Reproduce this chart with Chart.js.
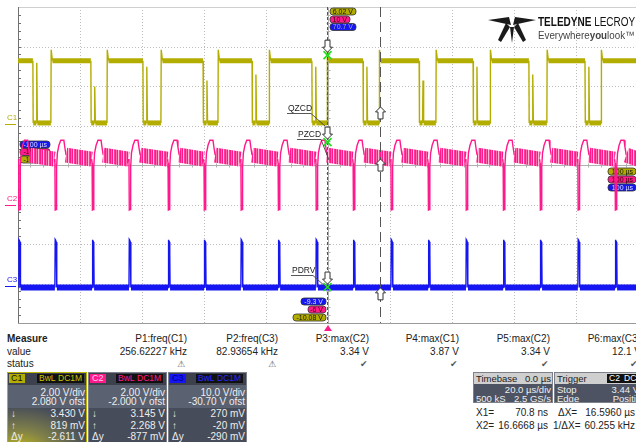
<!DOCTYPE html>
<html>
<head>
<meta charset="utf-8">
<script src="https://cdn.jsdelivr.net/npm/chart.js@4.4.1/dist/chart.umd.min.js"></script>
<style>
  html, body { margin: 0; padding: 0; background: #fff; }
  body { width: 636px; height: 442px; overflow: hidden; position: relative;
         font-family: "Liberation Sans", Arial, sans-serif; font-size: 10px; color: #222; }
  #scope { position: absolute; left: 0; top: 0; }
  .t { position: absolute; white-space: nowrap; line-height: 12px; }
  .b { font-weight: bold; }
  .ico { position: absolute; font-family: "DejaVu Sans"; font-size: 9px; color: #555; line-height: 10px; }
  .box { position: absolute; top: 372px; height: 72px; background: #5a6170; border: 1px solid #7c818c;
         box-sizing: border-box; overflow: hidden; color: #eee; }
  .hd { position: absolute; left: 0; top: 0; width: 100%; height: 12px; background: #3c414d; }
  .lo { position: absolute; left: 0; top: 35px; width: 100%; height: 40px; background: #464c59; }
  .lab { position: absolute; top: 1px; height: 9px; font-size: 9px; line-height: 9px; padding: 0 2px; }
  .bw { position: absolute; top: 1px; height: 9px; background: #111; font-size: 8.5px; line-height: 9px; padding: 0 2px; }
  .rw { position: absolute; right: 1px; line-height: 10px; font-size: 10px; white-space: nowrap; }
  .lf { position: absolute; left: 3px; line-height: 10px; font-size: 10px; white-space: nowrap; }
  .tb .rw, .tb .lf { font-size: 9.5px; line-height: 9px; }
  .logo1 { position: absolute; left: 538px; top: 16px; font-size: 12.5px; line-height: 12px; color: #111;
           transform: scaleX(0.8); transform-origin: left top; white-space: nowrap; }
  .logo2 { position: absolute; left: 538px; top: 29px; font-size: 11px; line-height: 12px; color: #444;
           transform: scaleX(0.89); transform-origin: left top; white-space: nowrap; }
</style>
</head>
<body>
<canvas id="scope" width="640" height="332"></canvas>

<!-- logo -->
<svg style="position:absolute;left:0;top:0" width="636" height="50">
  <g fill="#1a1a1a">
    <polygon points="488,20 509,17 511,25"/>
    <polygon points="536,20 515,17 513,25"/>
    <polygon points="506,23 510,27 501,42 498,40"/>
    <polygon points="510,27 514,27 512,43"/>
    <polygon points="518,23 514,27 523,42 526,40"/>
  </g>
</svg>
<div class="logo1"><b>TELEDYNE</b> LECROY</div>
<div class="logo2">Everywhere<b>you</b>look™</div>

<!-- measurement table -->
<div class="t b" style="left:7px;top:333px">Measure</div>
<div class="t" style="left:7px;top:346px">value</div>
<div class="t" style="left:7px;top:358px">status</div>

<div class="t" style="right:449px;top:333px">P1:freq(C1)</div>
<div class="t" style="right:358px;top:333px">P2:freq(C3)</div>
<div class="t" style="right:267px;top:333px">P3:max(C2)</div>
<div class="t" style="right:177px;top:333px">P4:max(C1)</div>
<div class="t" style="right:86px;top:333px">P5:max(C2)</div>
<div class="t" style="right:-5px;top:333px">P6:max(C3)</div>

<div class="t" style="right:449px;top:346px">256.62227 kHz</div>
<div class="t" style="right:358px;top:346px">82.93654 kHz</div>
<div class="t" style="right:267px;top:346px">3.34 V</div>
<div class="t" style="right:177px;top:346px">3.87 V</div>
<div class="t" style="right:86px;top:346px">3.34 V</div>
<div class="t" style="right:-5px;top:346px">12.1 V</div>

<div class="ico" style="left:177px;top:359px">⚠</div>
<div class="ico" style="left:268px;top:359px">⚠</div>
<div class="ico" style="left:360px;top:359px">✔</div>
<div class="ico" style="left:450px;top:359px">✔</div>
<div class="ico" style="left:541px;top:359px">✔</div>
<div class="ico" style="left:630px;top:359px">✔</div>

<!-- channel boxes -->
<div class="box" style="left:7px;width:80px;border-color:#b9b400">
  <div class="hd"></div>
  <div class="lab" style="left:1px;background:#b3ad00;color:#111">C1</div>
  <div class="bw" style="left:29px;color:#c9c400">BwL</div>
  <div class="bw" style="left:48px;color:#c9c400">DC1M</div>
  <div class="rw" style="top:15px">2.00 V/div</div>
  <div class="rw" style="top:24px">2.080 V ofst</div>
  <div class="lo" style="background:radial-gradient(ellipse at 15% 110%, rgba(205,196,20,0.95) 0%, rgba(160,155,40,0.55) 35%, #464c59 75%)"></div>
  <div class="lf" style="top:36px">↓</div><div class="rw" style="top:36px">3.430 V</div>
  <div class="lf" style="top:48px">↑</div><div class="rw" style="top:48px">819 mV</div>
  <div class="lf" style="top:59px">Δy</div><div class="rw" style="top:59px">-2.611 V</div>
</div>
<div class="box" style="left:88px;width:79px">
  <div class="hd"></div>
  <div class="lab" style="left:1px;background:#ff1a8c;color:#ffd0e8">C2</div>
  <div class="bw" style="left:27px;color:#ff1a8c">BwL</div>
  <div class="bw" style="left:46px;color:#ff1a8c">DC1M</div>
  <div class="rw" style="top:15px">2.00 V/div</div>
  <div class="rw" style="top:24px">-2.000 V ofst</div>
  <div class="lo"></div>
  <div class="lf" style="top:36px">↓</div><div class="rw" style="top:36px">3.145 V</div>
  <div class="lf" style="top:48px">↑</div><div class="rw" style="top:48px">2.268 V</div>
  <div class="lf" style="top:59px">Δy</div><div class="rw" style="top:59px">-877 mV</div>
</div>
<div class="box" style="left:168px;width:79px">
  <div class="hd"></div>
  <div class="lab" style="left:1px;background:#1414f5;color:#000080">C3</div>
  <div class="bw" style="left:27px;color:#2a2aff">BwL</div>
  <div class="bw" style="left:46px;color:#2a2aff">DC1M</div>
  <div class="rw" style="top:15px">10.0 V/div</div>
  <div class="rw" style="top:24px">-30.70 V ofst</div>
  <div class="lo"></div>
  <div class="lf" style="top:36px">↓</div><div class="rw" style="top:36px">270 mV</div>
  <div class="lf" style="top:48px">↑</div><div class="rw" style="top:48px">-20 mV</div>
  <div class="lf" style="top:59px">Δy</div><div class="rw" style="top:59px">-290 mV</div>
</div>

<!-- timebase / trigger -->
<div class="box tb" style="left:473px;width:80px;height:31px;background:#4d5362">
  <div class="hd" style="background:#cfcfcf;height:11px"></div>
  <div class="lf" style="top:1px;left:2px;color:#222">Timebase</div>
  <div class="rw" style="top:1px;color:#222">0.0 µs</div>
  <div class="rw" style="top:12px">20.0 µs/div</div>
  <div class="lf" style="top:21px;left:2px">500 kS</div>
  <div class="rw" style="top:21px">2.5 GS/s</div>
</div>
<div class="box tb" style="left:554px;width:90px;height:31px;background:#4d5362">
  <div class="hd" style="background:#cfcfcf;height:11px"></div>
  <div class="lf" style="top:1px;left:2px;color:#222">Trigger</div>
  <div class="bw" style="left:52px;top:1px;color:#fff">C2</div>
  <div class="bw" style="left:67px;top:1px;color:#fff">DC</div>
  <div class="lf" style="top:12px;left:2px">Stop</div>
  <div class="rw" style="top:12px;right:4px">3.44 V</div>
  <div class="lf" style="top:21px;left:2px">Edge</div>
  <div class="rw" style="top:21px;right:-3px">Positive</div>
</div>

<div class="t" style="left:476px;top:407px">X1=</div>
<div class="t" style="right:88px;top:407px">70.8 ns</div>
<div class="t" style="left:558px;top:407px">ΔX=</div>
<div class="t" style="right:1px;top:407px">16.5960 µs</div>
<div class="t" style="left:476px;top:420px">X2=</div>
<div class="t" style="right:88px;top:420px">16.6668 µs</div>
<div class="t" style="left:553px;top:420px">1/ΔX=</div>
<div class="t" style="right:1px;top:420px">60.255 kHz</div>

<script>
// ---- channel setup (from the channel boxes) ----
const chNames = ["C1", "C2", "C3"];
const voltsPerDiv = [2.0, 2.0, 10.0];
const offsets = [2.08, -2.0, -30.7];
const chColors = ["#b3ad00", "#ff1a8c", "#1616f2"];

// ---- C1: edge times (µs) and levels (V) ----
const c1Fall = [-95.2, -76.5, -59.7, -40.3, -24.5, -5.2, 11.3, 29.4, 46.8, 64.8, 82.9];
const c1Rise = [-89.4, -71.3, -53.9, -35.5, -19.0, -0.3, 16.5, 34.8, 52.3, 70.6, 88.1];
const c1Ring = [3.1, 1.9, 2.9, 2.2, 2.5, 2.9, 2.9, 2.2, 2.9, 2.5, 2.9];
const c1High = 3.2, c1Low = 0.05, c1Over = 3.75;

// ---- C2: dip times (µs), knee shape after each dip ----
const c2Dip = [-99.8, -88.1, -76.1, -64.2, -51.6, -40.0, -28.1, -16.1, -3.9, 8.1,
               20.3, 32.3, 44.5, 56.5, 68.4, 80.6, 92.6];
const c2KneeDt = [0, 0.1, 0.45, 0.55, 0.8, 1.3, 1.9, 2.9, 3.2, 3.6];
const c2KneeV  = [2.1, -0.28, -0.25, 1.9, 2.6, 3.0, 3.25, 3.25, 2.9, 2.5];
const c2PlateauEnd = 2.3;

// ---- C3: pulse times (µs) and pulse shape ----
const c3Pulse = [-99.8, -88.1, -76.1, -64.2, -51.6, -40.0, -28.1, -16.1, -3.9, 8.1,
                 20.3, 32.3, 44.5, 56.5, 68.4, 80.6, 92.6];
const c3PulseDt = [0, 0.1, 0.25, 0.45, 0.55, 0.65];
const c3PulseV  = [-0.3, 11.8, 11.6, 11.2, 8.4, -0.3];
const c3Base = -0.3;

// cursors
const cursorX1 = 0.0708, cursorX2 = 16.6668;

const toDiv = (ch, v) => (v + offsets[ch]) / voltsPerDiv[ch];

function buildC1() {
    const p = [{ x: -100, y: c1High, band: 1 }];
    c1Fall.forEach((f, i) => {
        p.push({ x: f, y: c1High });
        p.push({ x: f + 0.1, y: c1Low, band: 1 });
        p.push({ x: f + 1.1, y: c1Low });
        p.push({ x: f + 1.25, y: c1Ring[i] });
        p.push({ x: f + 1.45, y: c1Low, band: 1 });
        p.push({ x: c1Rise[i], y: c1Low });
        p.push({ x: c1Rise[i] + 0.1, y: c1Over });
        p.push({ x: c1Rise[i] + 0.5, y: c1High, band: 1 });
    });
    p.push({ x: 100, y: c1High });
    return p.map(d => ({ x: d.x, y: toDiv(0, d.y), band: d.band }));
}

function buildC2() {
    const p = [{ x: -100, y: c2PlateauEnd }];
    c2Dip.forEach((d, i) => {
        c2KneeDt.forEach((dt, k) => {
            p.push({ x: d + dt, y: c2KneeV[k], band: k === c2KneeDt.length - 1 ? 1 : 0 });
        });
        const end = i + 1 < c2Dip.length ? c2Dip[i + 1] - 0.15 : 100;
        p.push({ x: end, y: c2PlateauEnd });
    });
    return p.map(d => ({ x: d.x, y: toDiv(1, d.y), band: d.band }));
}

function buildC3() {
    const p = [{ x: -100, y: c3Base, band: 1 }];
    c3Pulse.forEach(t => {
        c3PulseDt.forEach((dt, k) => {
            p.push({ x: t + dt, y: c3PulseV[k], band: k === c3PulseDt.length - 1 ? 1 : 0 });
        });
    });
    p.push({ x: 100, y: c3Base });
    return p.map(d => ({ x: d.x, y: toDiv(2, d.y), band: d.band }));
}

const c1Data = buildC1();
const c2Data = buildC2();
const c3Data = buildC3();

// striped fill for the noisy C2 plateau
function noiseStripes() {
    const c = document.createElement("canvas");
    c.width = 5; c.height = 2;
    const g = c.getContext("2d");
    ["#ff1a8c", "#ff6aae", "#ff1a8c", "#ffb8d8", "#ff3c9c"].forEach((col, i) => {
        g.fillStyle = col;
        g.fillRect(i, 0, 1, 2);
    });
    return g.createPattern(c, "repeat");
}
const c2Noise = noiseStripes();

function seg(data, bandW, bandColor) {
    return {
        borderWidth: c => (data[c.p0DataIndex].band ? bandW : 1.4),
        borderColor: c => (data[c.p0DataIndex].band && bandColor ? bandColor : undefined)
    };
}

// ---- screen furniture: grid, badges, cursors, markers ----
function badge(ctx, x, y, w, h, fill, text, color) {
    ctx.beginPath();
    ctx.roundRect(x, y, w, h, 3);
    ctx.fillStyle = fill;
    ctx.fill();
    ctx.strokeStyle = "#333";
    ctx.lineWidth = 0.8;
    ctx.stroke();
    ctx.fillStyle = color;
    ctx.font = "7px 'Liberation Sans'";
    ctx.textBaseline = "middle";
    ctx.textAlign = "right";
    ctx.fillText(text, x + w - 3, y + h / 2 + 0.5);
}

function arrow(ctx, x, tipY, dir) {
    // hollow pointer, dir 1 = pointing down, -1 = up
    const s = dir;
    ctx.beginPath();
    ctx.moveTo(x, tipY);
    ctx.lineTo(x - 5, tipY - s * 5);
    ctx.lineTo(x - 2.5, tipY - s * 5);
    ctx.lineTo(x - 2.5, tipY - s * 12);
    ctx.lineTo(x + 2.5, tipY - s * 12);
    ctx.lineTo(x + 2.5, tipY - s * 5);
    ctx.lineTo(x + 5, tipY - s * 5);
    ctx.closePath();
    ctx.fillStyle = "#fff";
    ctx.fill();
    ctx.strokeStyle = "#333";
    ctx.lineWidth = 1;
    ctx.stroke();
}

function cross(ctx, x, y) {
    ctx.strokeStyle = "#22dd22";
    ctx.lineWidth = 1.6;
    ctx.beginPath();
    ctx.moveTo(x - 4, y - 4); ctx.lineTo(x + 4, y + 4);
    ctx.moveTo(x + 4, y - 4); ctx.lineTo(x - 4, y + 4);
    ctx.stroke();
}

function tag(ctx, text, tx, ty, ux0, ux1, lx, ly) {
    ctx.font = "8.5px 'Liberation Sans'";
    ctx.fillStyle = "#222";
    ctx.textAlign = "left";
    ctx.textBaseline = "alphabetic";
    ctx.fillText(text, tx, ty);
    ctx.strokeStyle = "#444";
    ctx.lineWidth = 0.9;
    ctx.beginPath();
    ctx.moveTo(ux0, ty + 2.5);
    ctx.lineTo(ux1, ty + 2.5);
    ctx.lineTo(lx, ly);
    ctx.stroke();
}

const scopeDecor = {
    id: "scopeDecor",
    beforeDatasetsDraw(chart) {
        const { ctx, chartArea: a } = chart;
        const dx = (a.right - a.left) / 10, dy = (a.bottom - a.top) / 8;
        const line = (x0, y0, x1, y1) => { ctx.beginPath(); ctx.moveTo(x0, y0); ctx.lineTo(x1, y1); ctx.stroke(); };
        ctx.save();
        ctx.lineWidth = 1;
        ctx.strokeStyle = "#bdbdbd";
        ctx.setLineDash([1, 2]);
        for (let i = 1; i < 10; i++) {
            if (i === 5) continue;
            const x = Math.round(a.left + i * dx) + 0.5;
            line(x, a.top, x, a.bottom);
        }
        for (let j = 1; j < 8; j++) {
            if (j === 4) continue;
            const y = Math.round(a.top + j * dy) + 0.5;
            line(a.left, y, a.right, y);
        }
        ctx.setLineDash([]);
        // centre axes with minor ticks
        const cx = Math.round(a.left + 5 * dx) + 0.5, cy = Math.round(a.top + 4 * dy) + 0.5;
        ctx.strokeStyle = "#b0b0b0";
        line(cx, a.top, cx, a.bottom);
        line(a.left, cy, a.right, cy);
        for (let k = 1; k < 50; k++) {
            const x = Math.round(a.left + k * dx / 5) + 0.5;
            line(x, cy - 2, x, cy + 2);
        }
        for (let k = 1; k < 40; k++) {
            const y = Math.round(a.top + k * dy / 5) + 0.5;
            line(cx - 2, y, cx + 2, y);
        }
        // frame
        ctx.strokeStyle = "#cfcfcf";
        line(a.left, a.top + 0.5, a.right, a.top + 0.5);
        ctx.strokeStyle = "#9a9a9a";
        line(a.left, a.bottom + 0.5, a.right, a.bottom + 0.5);
        ctx.strokeStyle = "#707070";
        line(a.left + 0.5, a.top, a.left + 0.5, a.bottom);
        for (let k = 1; k < 40; k++) {
            const y = Math.round(a.top + k * dy / 5) + 0.5;
            line(a.left, y, a.left + 3, y);
        }
        // channel level labels at the left edge
        ctx.font = "8px 'Liberation Sans'";
        ctx.textAlign = "left";
        ctx.textBaseline = "alphabetic";
        chNames.forEach((n, i) => {
            const y = Math.round(chart.scales.y.getPixelForValue(offsets[i] / voltsPerDiv[i])) + 0.5;
            ctx.fillStyle = chColors[i];
            ctx.fillText(n, 7, y - 5);
            ctx.strokeStyle = chColors[i];
            line(5, y, 16, y);
        });
        // readout badges
        badge(ctx, 330, 8, 26, 7, "#b3ad00", "6.02 V", "#111");
        badge(ctx, 330, 16, 20, 7, "#ff1a8c", "10 V", "#300");
        badge(ctx, 330, 23.5, 26, 7, "#1616f2", "70.7 V", "#aab");
        badge(ctx, 20, 141, 30, 7, "#1616f2", "-100 µs", "#dde");
        badge(ctx, 20, 148.5, 30, 7, "#ff1a8c", "-100 µs", "#300");
        badge(ctx, 20, 156, 30, 7, "#b3ad00", "-100 µs", "#111");
        badge(ctx, 608, 168, 28, 7, "#b3ad00", "100 µs", "#111");
        badge(ctx, 608, 176, 28, 7, "#ff1a8c", "100 µs", "#300");
        badge(ctx, 608, 184, 28, 7, "#1616f2", "100 µs", "#dde");
        badge(ctx, 301, 298, 25, 7, "#1616f2", "-9.3 V", "#dde");
        badge(ctx, 308, 306, 18, 7, "#ff1a8c", "-6 V", "#300");
        badge(ctx, 293, 314, 33, 7, "#b3ad00", "-10.08 V", "#111");
        ctx.restore();
    },
    afterDatasetsDraw(chart) {
        const { ctx, chartArea: a, scales: { x: sx, y: sy } } = chart;
        ctx.save();
        const x1 = Math.round(sx.getPixelForValue(cursorX1)) - 0.5;
        const x2 = Math.round(sx.getPixelForValue(cursorX2)) + 0.5;
        ctx.strokeStyle = "#555";
        ctx.lineWidth = 1;
        ctx.setLineDash([3, 2]);
        ctx.beginPath(); ctx.moveTo(x1, a.top); ctx.lineTo(x1, a.bottom); ctx.stroke();
        ctx.setLineDash([10, 5]);
        ctx.beginPath(); ctx.moveTo(x2, a.top); ctx.lineTo(x2, a.bottom); ctx.stroke();
        ctx.setLineDash([]);
        // cursor markers on each trace
        [2.78, 0.58, -3.09].forEach(d => {
            const y = sy.getPixelForValue(d);
            arrow(ctx, x1, y - 3, 1);
            cross(ctx, x1, y);
        });
        [1.47, 0.15, -3.11].forEach(d => arrow(ctx, x2, sy.getPixelForValue(d), -1));
        // trace tags
        tag(ctx, "QZCD", 288, 111, 287, 311, 325, 126);
        tag(ctx, "PZCD", 298, 137, 297, 321, 329, 160);
        tag(ctx, "PDRV", 292, 273, 291, 313, 326, 287);
        // trigger marker
        ctx.fillStyle = "#ff1a8c";
        ctx.beginPath();
        ctx.moveTo(x1 + 0.5, 325); ctx.lineTo(x1 - 3.5, 331); ctx.lineTo(x1 + 4.5, 331);
        ctx.closePath(); ctx.fill();
        ctx.restore();
    }
};

new Chart(document.getElementById("scope"), {
    type: "line",
    data: {
        datasets: [
            { label: "C3", data: c3Data, borderColor: chColors[2], borderWidth: 1.4,
              segment: seg(c3Data, 6, null) },
            { label: "C2", data: c2Data, borderColor: chColors[1], borderWidth: 1.6,
              segment: seg(c2Data, 15, c2Noise) },
            { label: "C1", data: c1Data, borderColor: chColors[0], borderWidth: 1.4,
              segment: seg(c1Data, 5, null) }
        ]
    },
    options: {
        responsive: false,
        animation: false,
        events: [],
        devicePixelRatio: 1,
        layout: { padding: { left: 18, top: 7, right: 2, bottom: 9 } },
        elements: { point: { radius: 0 }, line: { tension: 0 } },
        plugins: { legend: { display: false }, tooltip: { enabled: false } },
        scales: {
            x: { type: "linear", min: -100, max: 100, display: false },
            y: { type: "linear", min: -4, max: 4, display: false }
        }
    },
    plugins: [scopeDecor]
});
</script>
</body>
</html>
